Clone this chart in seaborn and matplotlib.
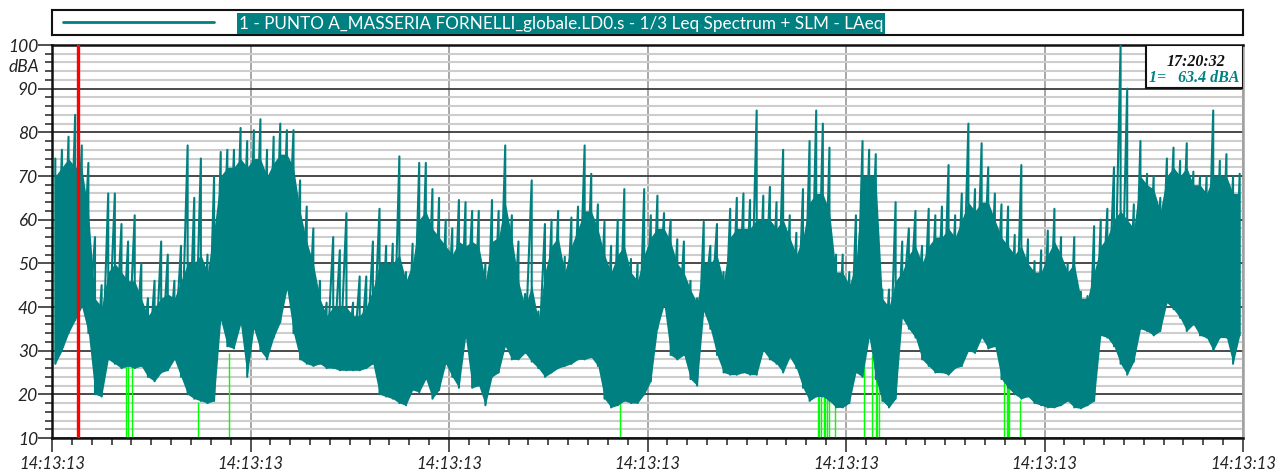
import numpy as np
import pandas as pd
import matplotlib.pyplot as plt
import seaborn as sns
from matplotlib.patches import Rectangle
from matplotlib.ticker import MultipleLocator

# LAeq, 30 slices per major division (6 divisions):
# highest spike, top of the dense band, and lowest level in each slice
peaks = [
    74, 76, 79, 84, 77, 73, 56, 45, 66, 66, 59, 55, 61, 50, 42, 46, 55, 52, 46, 54, 77, 65, 74, 52, 70, 75.5, 76, 76, 81, 78,
    80.5, 83, 76, 79, 82, 80.5, 80.5, 69, 63, 58, 46, 41, 56, 53, 61.5, 41, 47, 47, 55, 62.5, 54, 54.5, 74.5, 48, 54.5, 73, 73, 67, 65, 60,
    58, 64.5, 64, 62, 62, 50, 64.5, 62, 77, 61, 55, 43, 69, 39, 59, 60, 62, 51.5, 60.5, 63, 77, 70.5, 63.5, 59.5, 54, 60, 67, 51, 50, 67,
    61, 65.5, 61.5, 60, 55.5, 55, 46, 42, 59.5, 54, 59, 48, 62.5, 65, 66, 64.5, 85, 65.5, 67.5, 64, 76, 61, 57, 67, 78, 85, 82, 76.5, 52, 52,
    48, 61, 78, 76, 75, 44, 44, 64, 55, 58, 62, 54, 62.5, 61, 63, 72.5, 61, 66, 82, 67, 77.5, 72, 66, 63.5, 63, 56.5, 72.5, 55.5, 50.5, 53,
    57.5, 62.5, 56, 50, 56, 43.5, 42.5, 58.5, 60, 62.5, 72, 100, 90, 63.5, 78, 70.5, 70, 65, 74, 76.5, 73.5, 77.5, 71, 70, 70, 85, 73.5, 75, 70, 70.5,
]
band_top = [
    70, 72, 74, 72, 72, 62, 42, 40, 48, 50, 48, 46, 46, 42, 38, 40, 42, 43, 42, 46, 50, 50, 52, 48, 58, 70, 72, 72, 74, 72,
    74, 74, 70, 73, 75, 75, 72, 62, 55, 50, 42, 38, 40, 40, 40, 38, 38, 40, 44, 50, 50, 50, 52, 46, 50, 60, 62, 58, 56, 54,
    52, 55, 54, 55, 54, 46, 55, 56, 64, 56, 46, 40, 45, 37, 48, 54, 56, 48, 54, 58, 62, 62, 58, 52, 48, 52, 54, 48, 46, 52,
    56, 58, 58, 55, 50, 48, 44, 41, 50, 50, 52, 46, 56, 58, 58, 58, 60, 60, 60, 58, 60, 56, 52, 56, 64, 66, 66, 62, 48, 48,
    45, 50, 70, 70, 70, 42, 40, 46, 48, 52, 54, 50, 54, 56, 56, 58, 56, 60, 64, 62, 64, 64, 60, 56, 54, 52, 54, 50, 48, 48,
    52, 55, 52, 48, 50, 42, 42, 48, 54, 56, 60, 62, 60, 58, 70, 68, 67, 62, 70, 72, 70, 72, 68, 68, 66, 70, 70, 70, 66, 66,
]
troughs = [
    27, 30, 34, 37, 40, 34, 20, 19.5, 28, 27, 26, 26.5, 26, 26.5, 24, 23, 25, 25.5, 28, 24, 20, 19, 18.5, 18, 18.5, 37, 31, 30.5, 36, 24,
    35, 30, 28, 33, 36.5, 44, 34, 28, 27, 26.5, 27, 26, 26, 25.5, 25.5, 25.5, 25.5, 26, 27, 20, 19.5, 19, 18, 17.5, 21, 20.5, 23.5, 19, 21, 27,
    24, 21.5, 33, 21.5, 22, 17.5, 24, 25, 31, 28, 28, 29.5, 27.5, 26, 24, 25, 26, 26.5, 27, 28, 28, 28.5, 26.5, 19, 17, 17.5, 18.5, 18, 18, 20,
    23, 35, 40.5, 29, 28, 29, 23.5, 22, 39, 35, 29, 25, 24.5, 24.5, 25, 24.5, 24.5, 30, 28, 27, 25, 28.5, 26, 21.5, 18.5, 19.5, 19.5, 18.5, 17, 17,
    18, 25, 24, 33, 23.5, 18.5, 17, 19, 37.5, 35, 33, 28, 26.5, 25, 25, 24.5, 26, 26.5, 30, 29.5, 33, 30.5, 31, 23.5, 21.5, 20, 19, 19.5, 18, 17.5,
    17, 17, 17.5, 18.5, 17, 16.8, 17.5, 18.5, 33.5, 33, 31, 27, 24.5, 27.5, 35, 34.5, 33.5, 34.5, 41, 39.5, 37.5, 34.5, 36, 33.5, 33, 30, 33, 33, 27, 33.5,
]

# under-range markers (time in divisions*100, top level in dBA)
green_t = [37.3, 38.1, 40.1, 73.3, 89.3, 286.3, 385.7, 386.6, 387.6, 388.8, 389.6, 390.6,
           391.2, 394.7, 409.2, 413.0, 414.9, 415.6, 416.4, 479.8, 480.9, 481.6, 482.1, 487.8]
green_top = [29, 29, 29, 18.3, 29.4, 19.5, 21, 20.5, 20.5, 20, 20, 20,
             19.5, 19.5, 27.5, 29, 26, 24, 22, 23.5, 22.5, 22, 21.5, 18.7]

x_labels = ['14:13:13'] * 7
cursor_t = 13.1
cursor_time = '17:20:32'
cursor_value = 63.4
title = '1 - PUNTO A_MASSERIA FORNELLI_globale.LD0.s - 1/3 Leq Spectrum + SLM - LAeq'

TEAL = '#008080'
W, H = 1283, 473

n = len(peaks)
df = pd.DataFrame({'t': (np.arange(n) + 0.5) * 600 / n, 'hi': peaks,
                   'band': band_top, 'lo': troughs})
# one continuous trace: peak, trough, peak, trough ...
trace = pd.DataFrame({'t': np.column_stack([df.t, df.t]).ravel(),
                      'laeq': np.column_stack([df.hi, df.lo]).ravel()})

sns.set_style('white')
plt.rcParams['font.family'] = ['Lato', 'DejaVu Sans']

fig = plt.figure(figsize=(W / 100, H / 100), dpi=100)
ax = fig.add_axes([52 / W, 1 - 438 / H, 1191 / W, 393 / H])

ax.vlines(green_t, 10, green_top, color='#00ff00', lw=1.0, zorder=2)
ax.fill_between(df.t, df.lo, df.band, color=TEAL, lw=0, zorder=3)
sns.lineplot(data=trace, x='t', y='laeq', color=TEAL, lw=1.5, sort=False,
             estimator=None, ax=ax, zorder=3)
ax.axvline(cursor_t, color='red', lw=2.4, zorder=4)

ax.set_xlim(0, 600)
ax.set_ylim(10, 100)
ax.set_xlabel('')
ax.set_ylabel('')

ax.xaxis.set_minor_locator(MultipleLocator(10))
ax.yaxis.set_minor_locator(MultipleLocator(2))
ax.set_xticks(range(0, 601, 100))
ax.set_xticklabels(x_labels, fontsize=12, style='italic', color='#222222')
ax.set_yticks(range(10, 101, 10))
ax.set_yticklabels([str(v) for v in range(10, 101, 10)], fontsize=12.5,
                   style='italic', color='#222222')
ax.text(-0.011, 95, 'dBA', transform=ax.get_yaxis_transform(), ha='right',
        va='center', fontsize=12.5, style='italic', color='#222222')

ax.tick_params(axis='both', which='major', length=10, width=1.2, color='#333333')
ax.tick_params(axis='both', which='minor', length=5, width=1.2, color='#333333')
ax.tick_params(axis='y', which='major', pad=0)
ax.tick_params(axis='x', which='major', pad=3)
ax.tick_params(axis='x', which='both', bottom=True)
ax.tick_params(axis='y', which='both', left=True)

ax.yaxis.grid(True, which='minor', color='#cdcdcd', lw=1.5)
ax.yaxis.grid(True, which='major', color='#3c3c3c', lw=1.3)
ax.xaxis.grid(True, which='major', color='#a0a0a0', lw=1.3)
ax.set_axisbelow(True)

for side in ['left', 'top', 'bottom']:
    ax.spines[side].set_color('#111111')
    ax.spines[side].set_linewidth(1.8)
ax.spines['right'].set_color('#a0a0a0')
ax.spines['right'].set_linewidth(1.8)

# cursor readout box
x0 = (1146 - 52) / 1191
ax.add_patch(Rectangle((x0, 0.891), 1 - x0, 0.109, transform=ax.transAxes,
                       fc='white', ec='#111111', lw=1.5, zorder=6))
ax.text((x0 + 1) / 2 + 0.001, 0.958, cursor_time, transform=ax.transAxes, ha='center',
        va='center', fontsize=11.5, family='Liberation Serif', weight='bold',
        style='italic', color='#111111', zorder=7)
ax.text((x0 + 1) / 2, 0.917, f'1=   {cursor_value} dBA', transform=ax.transAxes,
        ha='center', va='center', fontsize=11.5, family='Liberation Serif',
        weight='bold', style='italic', color=TEAL, zorder=7)

# legend strip
lax = fig.add_axes([52 / W, 1 - 35 / H, 1191 / W, 25 / H])
lax.set_xlim(0, 1191)
lax.set_ylim(0, 1)
lax.set_xticks([])
lax.set_yticks([])
for s in lax.spines.values():
    s.set_color('#111111')
    s.set_linewidth(1.5)
lax.plot([11, 162], [0.5, 0.5], color=TEAL, lw=2)
lax.text(187, 0.46, title, ha='left', va='center', fontsize=12.3, color='white',
         bbox=dict(boxstyle='square,pad=0.12', fc=TEAL, ec='none'))

fig.savefig('out.png', dpi=100)
